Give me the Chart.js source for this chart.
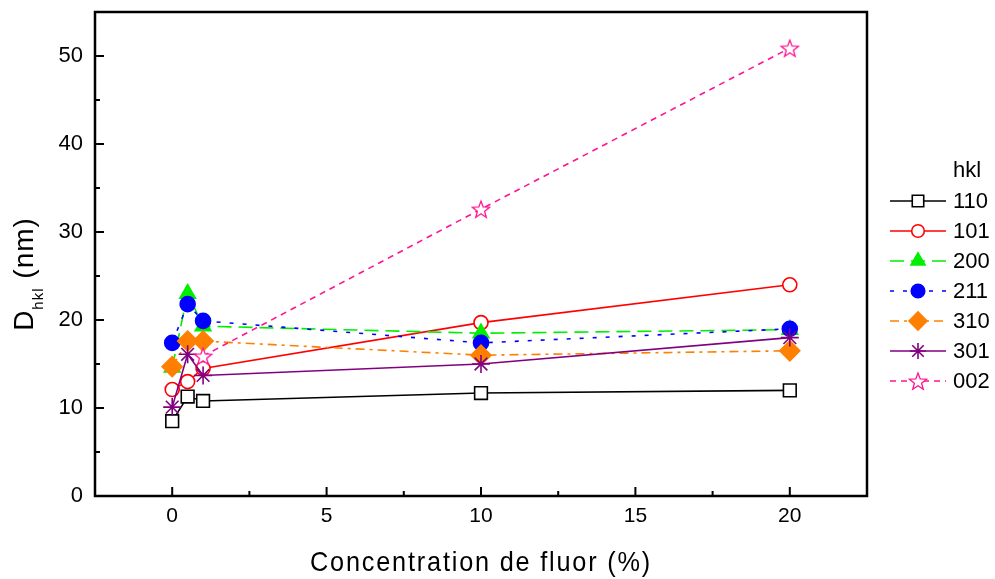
<!DOCTYPE html>
<html>
<head>
<meta charset="utf-8">
<style>
  html, body { margin: 0; padding: 0; background: #fff; }
  #wrap { width: 995px; height: 579px; position: relative; }
</style>
</head>
<body>
<div id="wrap"><canvas id="chart"></canvas></div>
<script src="https://cdn.jsdelivr.net/npm/chart.js@4.4.1/dist/chart.umd.min.js"></script>
<script>
// Fluorine concentration (%) on the x axis
const concentration = [0, 0.5, 1, 10, 20];

// Crystallite size D_hkl (nm) per reflection
const hklLabels = ['110', '101', '200', '211', '310', '301', '002'];
const d110 = [8.5, 11.3, 10.8, 11.7, 12.0];
const d101 = [12.1, 13.0, 14.5, 19.7, 24.0];
const d200 = [14.6, 23.0, 19.3, 18.5, 18.9];
const d211 = [17.4, 21.8, 19.9, 17.4, 19.0];
const d310 = [14.7, 17.6, 17.6, 16.0, 16.5];
const d301 = [10.1, 16.1, 13.7, 15.0, 18.0];
const d002 = [null, null, 15.9, 32.6, 50.9];

const xTickValues = [0, 5, 10, 15, 20];
const xMinorValues = [2.5, 7.5, 12.5, 17.5];
const yTickValues = [0, 10, 20, 30, 40, 50];
const yMinorValues = [5, 15, 25, 35, 45];

// open 5-point star, not a built-in point style
function makeStar(r, color) {
    const size = Math.ceil(2 * r + 4);
    const c = document.createElement('canvas');
    c.width = size; c.height = size;
    const g = c.getContext('2d');
    const cx = size / 2, cy = size / 2 + 1;
    g.beginPath();
    for (let i = 0; i < 10; i++) {
        const a = -Math.PI / 2 + i * Math.PI / 5;
        const rr = i % 2 ? r * 0.42 : r;
        const px = cx + rr * Math.cos(a), py = cy + rr * Math.sin(a);
        if (i === 0) g.moveTo(px, py); else g.lineTo(px, py);
    }
    g.closePath();
    g.fillStyle = '#fff';
    g.fill();
    g.lineWidth = 1.3;
    g.strokeStyle = color;
    g.stroke();
    return c;
}

const pinkStar = makeStar(9, '#ff1493');

const seriesValues = [d110, d101, d200, d211, d310, d301, d002];
const seriesStyles = [
    { color: '#000000', fill: '#ffffff', point: 'rect', radius: 9, dash: [] },
    { color: '#ff0000', fill: '#ffffff', point: 'circle', radius: 7, dash: [] },
    { color: '#00ee00', fill: '#00ee00', point: 'triangle', radius: 9, dash: [14, 7] },
    { color: '#0000ff', fill: '#0000ff', point: 'circle', radius: 7.5, dash: [4, 9] },
    { color: '#ff8000', fill: '#ff8000', point: 'rectRot', radius: 10, dash: [9, 5, 3, 5] },
    { color: '#800080', fill: '#800080', point: 'star', radius: 9, dash: [] },
    { color: '#ff1493', fill: '#ffffff', point: pinkStar, radius: 9, dash: [6, 5] }
];

const datasets = hklLabels.map((label, i) => ({
    label,
    data: concentration.map((x, j) => ({ x, y: seriesValues[i][j] })),
    borderColor: seriesStyles[i].color,
    backgroundColor: seriesStyles[i].fill,
    borderWidth: 1.6,
    borderDash: seriesStyles[i].dash,
    pointStyle: seriesStyles[i].point,
    pointRadius: seriesStyles[i].radius,
    pointBorderColor: seriesStyles[i].color,
    pointBackgroundColor: seriesStyles[i].fill,
    pointBorderWidth: 1.6,
    showLine: true,
    spanGaps: false,
    order: hklLabels.length - i
}));

const frameAndTicks = {
    id: 'frameAndTicks',
    beforeDatasetsDraw(chart) {
        const { ctx, chartArea: a, scales: { x, y } } = chart;
        ctx.save();
        ctx.strokeStyle = '#000';
        ctx.lineWidth = 2.5;
        ctx.strokeRect(a.left, a.top, a.right - a.left, a.bottom - a.top);
        ctx.lineWidth = 2;
        ctx.beginPath();
        xTickValues.forEach(v => { const px = x.getPixelForValue(v); ctx.moveTo(px, a.bottom); ctx.lineTo(px, a.bottom - 9); });
        xMinorValues.forEach(v => { const px = x.getPixelForValue(v); ctx.moveTo(px, a.bottom); ctx.lineTo(px, a.bottom - 5); });
        yTickValues.forEach(v => { const py = y.getPixelForValue(v); ctx.moveTo(a.left, py); ctx.lineTo(a.left + 9, py); });
        yMinorValues.forEach(v => { const py = y.getPixelForValue(v); ctx.moveTo(a.left, py); ctx.lineTo(a.left + 5, py); });
        ctx.stroke();
        ctx.restore();
    },
    afterDraw(chart) {
        const { ctx } = chart;
        ctx.save();
        ctx.fillStyle = '#000';
        // x axis title, squeezed to look like a narrow face
        ctx.font = '28px "Liberation Sans", sans-serif';
        ctx.letterSpacing = '2px';
        ctx.textAlign = 'left';
        ctx.textBaseline = 'middle';
        const title = 'Concentration de fluor (%)';
        const tw = ctx.measureText(title).width;
        ctx.translate(310, 563);
        ctx.scale(342 / tw, 1);
        ctx.fillText(title, 0, 0);
        ctx.restore();

        // y axis title with subscript
        ctx.save();
        ctx.fillStyle = '#000';
        ctx.translate(33, 274);
        ctx.rotate(-Math.PI / 2);
        ctx.letterSpacing = '1px';
        ctx.textAlign = 'left';
        ctx.textBaseline = 'alphabetic';
        const big = '28px "Liberation Sans", sans-serif';
        const small = '15px "Liberation Sans", sans-serif';
        ctx.font = big;
        const wD = ctx.measureText('D').width;
        ctx.font = small;
        const wSub = ctx.measureText('hkl').width;
        ctx.font = big;
        const wRest = ctx.measureText(' (nm)').width;
        let sx = -(wD + wSub + wRest) / 2;
        ctx.fillText('D', sx, 0);
        sx += wD;
        ctx.font = small;
        ctx.fillText('hkl', sx, 10);
        sx += wSub;
        ctx.font = big;
        ctx.fillText(' (nm)', sx, 0);
        ctx.restore();

        // legend
        ctx.save();
        ctx.font = '22px "Liberation Sans", sans-serif';
        ctx.fillStyle = '#000';
        ctx.textBaseline = 'middle';
        ctx.textAlign = 'left';
        ctx.fillText('hkl', 953, 171);
        chart.data.datasets.forEach((ds, i) => {
            const ly = 201 + i * 30;
            ctx.save();
            ctx.strokeStyle = ds.borderColor;
            ctx.lineWidth = 1.6;
            ctx.setLineDash(ds.borderDash);
            ctx.beginPath();
            ctx.moveTo(890, ly);
            ctx.lineTo(946, ly);
            ctx.stroke();
            ctx.setLineDash([]);
            ctx.strokeStyle = ds.pointBorderColor;
            ctx.fillStyle = ds.pointBackgroundColor;
            Chart.helpers.drawPoint(ctx, {
                pointStyle: ds.pointStyle, rotation: 0,
                radius: ds.pointRadius * 0.9, borderWidth: ds.pointBorderWidth
            }, 918, ly);
            ctx.restore();
            ctx.fillText(ds.label, 953, ly + 1);
        });
        ctx.restore();
    }
};

new Chart(document.getElementById('chart'), {
    type: 'scatter',
    data: { datasets },
    options: {
        responsive: true,
        maintainAspectRatio: false,
        animation: false,
        layout: { padding: { top: 12, right: 128, left: 0, bottom: 0 } },
        plugins: { legend: { display: false }, tooltip: { enabled: false } },
        scales: {
            x: {
                type: 'linear',
                min: -2.5,
                max: 22.5,
                grid: { display: false, drawTicks: false },
                border: { display: false },
                afterBuildTicks: (s) => { s.ticks = xTickValues.map(v => ({ value: v })); },
                afterFit: (s) => { s.height = 83; s.paddingLeft = 0; s.paddingRight = 0; },
                ticks: {
                    color: '#000',
                    padding: 8,
                    font: { family: '"Liberation Sans", sans-serif', size: 21 }
                }
            },
            y: {
                type: 'linear',
                min: 0,
                max: 55,
                grid: { display: false, drawTicks: false },
                border: { display: false },
                afterBuildTicks: (s) => { s.ticks = yTickValues.map(v => ({ value: v })); },
                afterFit: (s) => { s.width = 95; s.paddingTop = 0; s.paddingBottom = 0; },
                ticks: {
                    color: '#000',
                    padding: 12,
                    font: { family: '"Liberation Sans", sans-serif', size: 22 }
                }
            }
        }
    },
    plugins: [frameAndTicks]
});
</script>
</body>
</html>
